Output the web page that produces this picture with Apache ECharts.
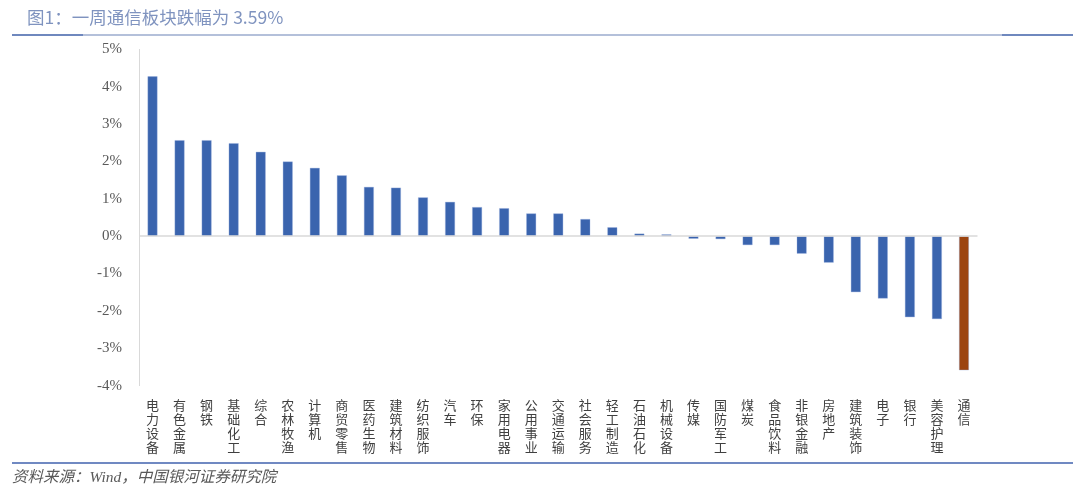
<!DOCTYPE html>
<html><head><meta charset="utf-8">
<script src="https://cdn.jsdelivr.net/npm/echarts@6/dist/echarts.min.js"></script>
<style>html,body{margin:0;padding:0;background:#fff;}#c{width:1080px;height:492px;}</style>
</head><body><div id="c"></div>
<script>
const categories = ['电力设备','有色金属','钢铁','基础化工','综合','农林牧渔','计算机','商贸零售','医药生物','建筑材料','纺织服饰','汽车','环保','家用电器','公用事业','交通运输','社会服务','轻工制造','石油石化','机械设备','传媒','国防军工','煤炭','食品饮料','非银金融','房地产','建筑装饰','电子','银行','美容护理','通信'];
const values = [4.28,2.57,2.57,2.49,2.26,2.00,1.83,1.63,1.32,1.30,1.04,0.92,0.78,0.75,0.61,0.61,0.46,0.24,0.07,0.05,-0.07,-0.08,-0.24,-0.24,-0.47,-0.71,-1.50,-1.67,-2.17,-2.22,-3.59];
const highlight = '通信';
const titleText = '图1：一周通信板块跌幅为 3.59%';
const sourceText = '资料来源：Wind，中国银河证券研究院';

const chart = echarts.init(document.getElementById('c'));
chart.setOption({
  animation: false,
  grid: {left: 139, right: 102.5, top: 49.4, bottom: 106.4, containLabel: false},
  xAxis: {
    type: 'category', data: categories,
    axisLine: {show: false, onZero: false}, axisTick: {show: false},
    axisLabel: {
      interval: 0, margin: 12, verticalAlign: 'top',
      fontFamily: 'Noto Sans CJK SC', fontSize: 13, lineHeight: 14, color: '#404040',
      formatter: v => v.split('').join('\n')
    }
  },
  yAxis: {
    type: 'value', min: -4, max: 5, interval: 1,
    axisLine: {show: true, lineStyle: {color: '#d9d9d9', width: 1}},
    axisTick: {show: false}, splitLine: {show: false},
    axisLabel: {formatter: v => v + '%', fontFamily: 'Liberation Serif', fontSize: 15, color: '#595959', margin: 17}
  },
  series: [{
    type: 'bar', barWidth: 10,
    data: values.map((v, i) => ({value: v, itemStyle: {color: categories[i] === highlight ? '#9C4410' : '#3A64AE'}})),
    itemStyle: {borderColor: 'rgba(150,175,220,0.6)', borderWidth: 0.6},
    markLine: {
      silent: true, symbol: 'none', label: {show: false},
      lineStyle: {color: '#d9d9d9', type: 'solid', width: 1.5},
      data: [{yAxis: 0}]
    }
  }],
  graphic: [
    {type: 'text', left: 27, top: 9, style: {text: titleText, fontFamily: 'Noto Sans CJK SC', fontSize: 17.5, fill: '#7F93BF'}},
    {type: 'line', shape: {x1: 12, y1: 35, x2: 1073, y2: 35}, style: {stroke: '#B4C0DA', lineWidth: 2}},
    {type: 'line', shape: {x1: 12, y1: 35, x2: 83, y2: 35}, style: {stroke: '#6F88BE', lineWidth: 2}},
    {type: 'line', shape: {x1: 1002, y1: 35, x2: 1073, y2: 35}, style: {stroke: '#6F88BE', lineWidth: 2}},
    {type: 'line', shape: {x1: 12, y1: 463, x2: 1073, y2: 463}, style: {stroke: '#7089C2', lineWidth: 2}},
    {type: 'text', left: 12, top: 470, style: {text: sourceText, fontFamily: 'Liberation Serif, Noto Sans CJK SC', fontStyle: 'italic', fontSize: 15.5, fill: '#595959'}}
  ]
});
</script></body></html>
